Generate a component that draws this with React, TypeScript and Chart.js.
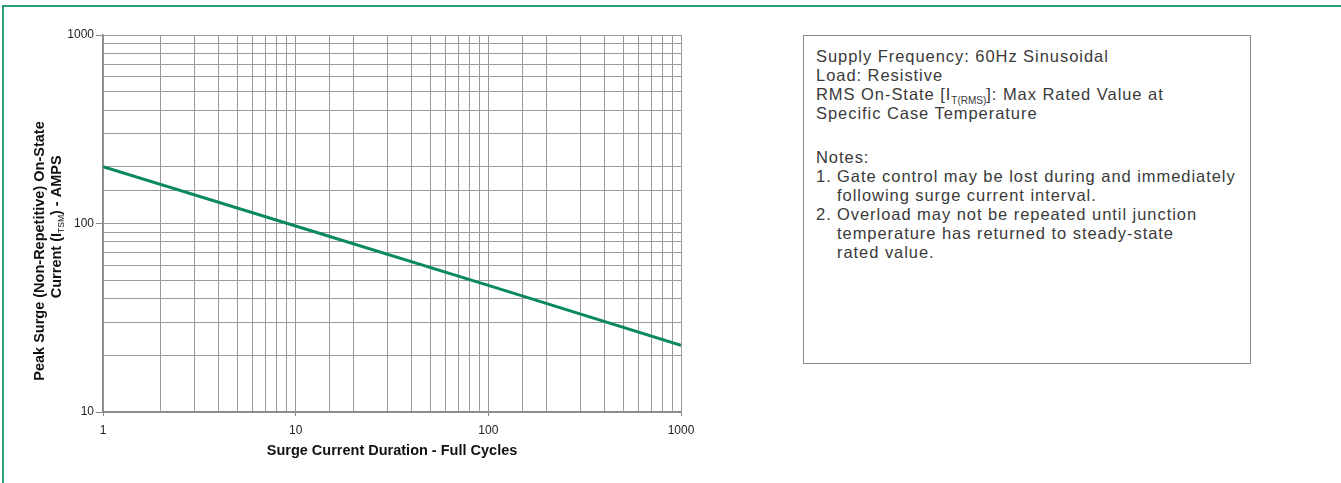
import React, { useEffect, useRef } from 'react';
import { Chart, registerables } from 'chart.js';

Chart.register(...registerables);

// ---- data ----
const cycles = [1, 10, 100, 1000];
const surgeAmps = [200, 97, 47, 22.6];
const xTickLabels = [1, 10, 100, 1000];
const yTickLabels = [10, 100, 1000];
const xTitle = 'Surge Current Duration - Full Cycles';
const yTitleLine1 = 'Peak Surge (Non-Repetitive) On-State';
const yTitleLine2 = ['Current (I', 'TSM', ') - AMPS'];
const infoLines = [
  'Supply Frequency: 60Hz Sinusoidal',
  'Load: Resistive',
];
const notesLines = [
  ['1.', 'Gate control may be lost during and immediately'],
  ['', 'following surge current interval.'],
  ['2.', 'Overload may not be repeated until junction'],
  ['', 'temperature has returned to steady-state'],
  ['', 'rated value.'],
];

const W = 760;
const H = 483;
const FONT = '"Liberation Sans", Arial, Helvetica, sans-serif';

const isDecade = (v: number) => {
  const l = Math.log10(v);
  return Math.abs(l - Math.round(l)) < 1e-9;
};

const titlePlugin = {
  id: 'axisTitles',
  afterDraw(chart: any) {
    const ctx = chart.ctx as CanvasRenderingContext2D;
    const area = chart.chartArea;
    const bold = `bold 14.5px ${FONT}`;
    const sub = `8.5px ${FONT}`;
    ctx.save();
    ctx.fillStyle = '#111';
    // x title
    ctx.font = bold;
    ctx.textAlign = 'center';
    ctx.textBaseline = 'middle';
    ctx.fillText(xTitle, (area.left + area.right) / 2, 451);
    // y title line 1
    ctx.save();
    ctx.translate(40, 251);
    ctx.rotate(-Math.PI / 2);
    ctx.fillText(yTitleLine1, 0, 0);
    ctx.restore();
    // y title line 2 (with subscript), subscript placed beside the "100" label
    ctx.save();
    ctx.font = bold;
    const w1 = ctx.measureText(yTitleLine2[0]).width;
    ctx.font = sub;
    const w2 = ctx.measureText(yTitleLine2[1]).width;
    const startY = 224 + w1 + w2 / 2;
    ctx.translate(57, startY);
    ctx.rotate(-Math.PI / 2);
    ctx.textAlign = 'left';
    let x0 = 0;
    ctx.font = bold;
    ctx.fillText(yTitleLine2[0], x0, 0);
    x0 += w1;
    ctx.font = sub;
    ctx.fillText(yTitleLine2[1], x0, 5);
    x0 += w2;
    ctx.font = bold;
    ctx.fillText(yTitleLine2[2], x0, 0);
    ctx.restore();
    ctx.restore();
  },
};

function SurgeChart() {
  const ref = useRef<HTMLCanvasElement | null>(null);
  useEffect(() => {
    if (!ref.current) return;
    const chart = new Chart(ref.current, {
      type: 'line',
      data: {
        datasets: [
          {
            data: cycles.map((c, i) => ({ x: c, y: surgeAmps[i] })),
            borderColor: '#0a8a5a',
            borderWidth: 3,
            pointRadius: 0,
            tension: 0,
            fill: false,
          },
        ],
      },
      options: {
        responsive: false,
        animation: false,
        devicePixelRatio: 1,
        layout: { padding: { top: 35, left: 0, right: W - 681, bottom: 0 } },
        plugins: { legend: { display: false }, tooltip: { enabled: false } },
        scales: {
          x: {
            type: 'logarithmic',
            min: 1,
            max: 1000,
            ticks: {
              autoSkip: false,
              maxRotation: 0,
              color: '#222',
              padding: 7,
              font: { size: 12, family: FONT },
              callback: (v: any) => (isDecade(Number(v)) && xTickLabels.includes(Math.round(Number(v))) ? String(Math.round(Number(v))) : ''),
            },
            grid: {
              color: '#9a9a9a',
              lineWidth: 1,
              tickLength: 4,
              tickColor: (c: any) => (c.tick && isDecade(c.tick.value) ? '#888' : 'rgba(0,0,0,0)'),
            },
            border: { color: '#888', width: 1.5 },
            afterFit: (s: any) => {
              s.height = H - 412;
            },
          },
          y: {
            type: 'logarithmic',
            min: 10,
            max: 1000,
            ticks: {
              autoSkip: false,
              color: '#222',
              padding: 2,
              font: { size: 12, family: FONT },
              callback: (v: any) => (isDecade(Number(v)) && yTickLabels.includes(Math.round(Number(v))) ? String(Math.round(Number(v))) : ''),
            },
            grid: {
              color: '#9a9a9a',
              lineWidth: 1,
              tickLength: 7,
              tickColor: (c: any) => (c.tick && isDecade(c.tick.value) ? '#888' : 'rgba(0,0,0,0)'),
            },
            border: { color: '#888', width: 1.5 },
            afterFit: (s: any) => {
              s.width = 103;
            },
          },
        },
      },
      plugins: [titlePlugin],
    } as any);
    return () => chart.destroy();
  }, []);
  return <canvas ref={ref} width={W} height={H} style={{ position: 'absolute', left: 0, top: 0, width: W, height: H }} />;
}

export default function App() {
  const lineStyle: React.CSSProperties = { height: 19, whiteSpace: 'nowrap' };
  return (
    <div style={{ position: 'absolute', left: 0, top: 0, width: 1341, height: 483, background: '#fff', overflow: 'hidden' }}>
      <div style={{ position: 'absolute', left: 2, top: 5, right: -10, bottom: -10, borderLeft: '2px solid #2e9e78', borderTop: '2px solid #2e9e78' }} />
      <SurgeChart />
      <div
        style={{
          position: 'absolute',
          left: 803,
          top: 35,
          width: 448,
          height: 329,
          boxSizing: 'border-box',
          border: '1px solid #8a8a8a',
          padding: '11px 0 0 12px',
          fontFamily: FONT,
          fontSize: 16.5,
          letterSpacing: 0.95,
          lineHeight: '19px',
          color: '#3a3a3a',
        }}
      >
        {infoLines.map((t) => (
          <div key={t} style={lineStyle}>{t}</div>
        ))}
        <div style={lineStyle}>
          RMS On-State [I<sub style={{ fontSize: 10, letterSpacing: 0, verticalAlign: -4, lineHeight: 0 }}>T(RMS)</sub>]: Max Rated Value at
        </div>
        <div style={lineStyle}>Specific Case Temperature</div>
        <div style={{ height: 25 }}></div>
        <div style={lineStyle}>Notes:</div>
        {notesLines.map(([n, t], i) => (
          <div key={i} style={{ ...lineStyle, display: 'flex' }}>
            <span style={{ display: 'inline-block', width: 21 }}>{n}</span>
            <span>{t}</span>
          </div>
        ))}
      </div>
    </div>
  );
}
